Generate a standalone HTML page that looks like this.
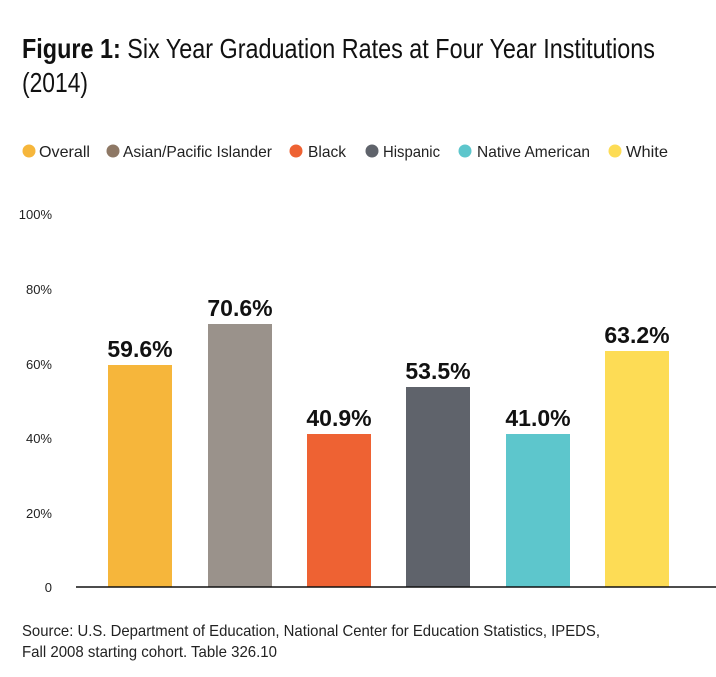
<!DOCTYPE html>
<html><head><meta charset="utf-8"><style>
html,body{margin:0;padding:0;background:#fff;}
svg{display:block;font-family:"Liberation Sans Narrow","Liberation Sans",sans-serif;}
</style></head><body>
<svg width="716" height="677" viewBox="0 0 716 677" xmlns="http://www.w3.org/2000/svg">
<text x="22" y="58" font-size="28" fill="#111" textLength="633" lengthAdjust="spacingAndGlyphs"><tspan font-weight="bold">Figure 1:</tspan> Six Year Graduation Rates at Four Year Institutions</text>
<text x="22" y="92" font-size="28" fill="#111" textLength="66" lengthAdjust="spacingAndGlyphs">(2014)</text>
<g font-size="16" fill="#222">
<circle cx="29" cy="151" r="6.5" fill="#F6B63B"/><text x="39" y="157" textLength="51" lengthAdjust="spacingAndGlyphs">Overall</text>
<circle cx="113" cy="151" r="6.5" fill="#8E7865"/><text x="123" y="157" textLength="149" lengthAdjust="spacingAndGlyphs">Asian/Pacific Islander</text>
<circle cx="296" cy="151" r="6.5" fill="#EE6233"/><text x="308" y="157" textLength="38" lengthAdjust="spacingAndGlyphs">Black</text>
<circle cx="372" cy="151" r="6.5" fill="#5F636B"/><text x="383" y="157" textLength="57" lengthAdjust="spacingAndGlyphs">Hispanic</text>
<circle cx="465" cy="151" r="6.5" fill="#5DC6CC"/><text x="477" y="157" textLength="113" lengthAdjust="spacingAndGlyphs">Native American</text>
<circle cx="615" cy="151" r="6.5" fill="#FDDC55"/><text x="626" y="157" textLength="42" lengthAdjust="spacingAndGlyphs">White</text>
</g>
<g font-size="13" fill="#222" text-anchor="end">
<text x="52" y="219">100%</text>
<text x="52" y="294">80%</text>
<text x="52" y="369">60%</text>
<text x="52" y="443">40%</text>
<text x="52" y="518">20%</text>
<text x="52" y="592">0</text>
</g>
<g>
<rect x="108" y="365" width="64" height="222" fill="#F6B63B"/>
<rect x="208" y="324" width="64" height="263" fill="#9A928B"/>
<rect x="307" y="434" width="64" height="153" fill="#EE6233"/>
<rect x="406" y="387" width="64" height="200" fill="#5F636B"/>
<rect x="506" y="434" width="64" height="153" fill="#5DC6CC"/>
<rect x="605" y="351" width="64" height="236" fill="#FDDC55"/>
</g>
<line x1="76" y1="587" x2="716" y2="587" stroke="#111" stroke-width="1.5"/>
<g font-size="23" font-weight="bold" fill="#111" text-anchor="middle">
<text x="140" y="357">59.6%</text>
<text x="240" y="316">70.6%</text>
<text x="339" y="426">40.9%</text>
<text x="438" y="379">53.5%</text>
<text x="538" y="426">41.0%</text>
<text x="637" y="343">63.2%</text>
</g>
<text x="22" y="636" font-size="16" fill="#222" textLength="578" lengthAdjust="spacingAndGlyphs">Source: U.S. Department of Education, National Center for Education Statistics, IPEDS,</text>
<text x="22" y="657" font-size="16" fill="#222" textLength="255" lengthAdjust="spacingAndGlyphs">Fall 2008 starting cohort. Table 326.10</text>
</svg>
</body></html>
